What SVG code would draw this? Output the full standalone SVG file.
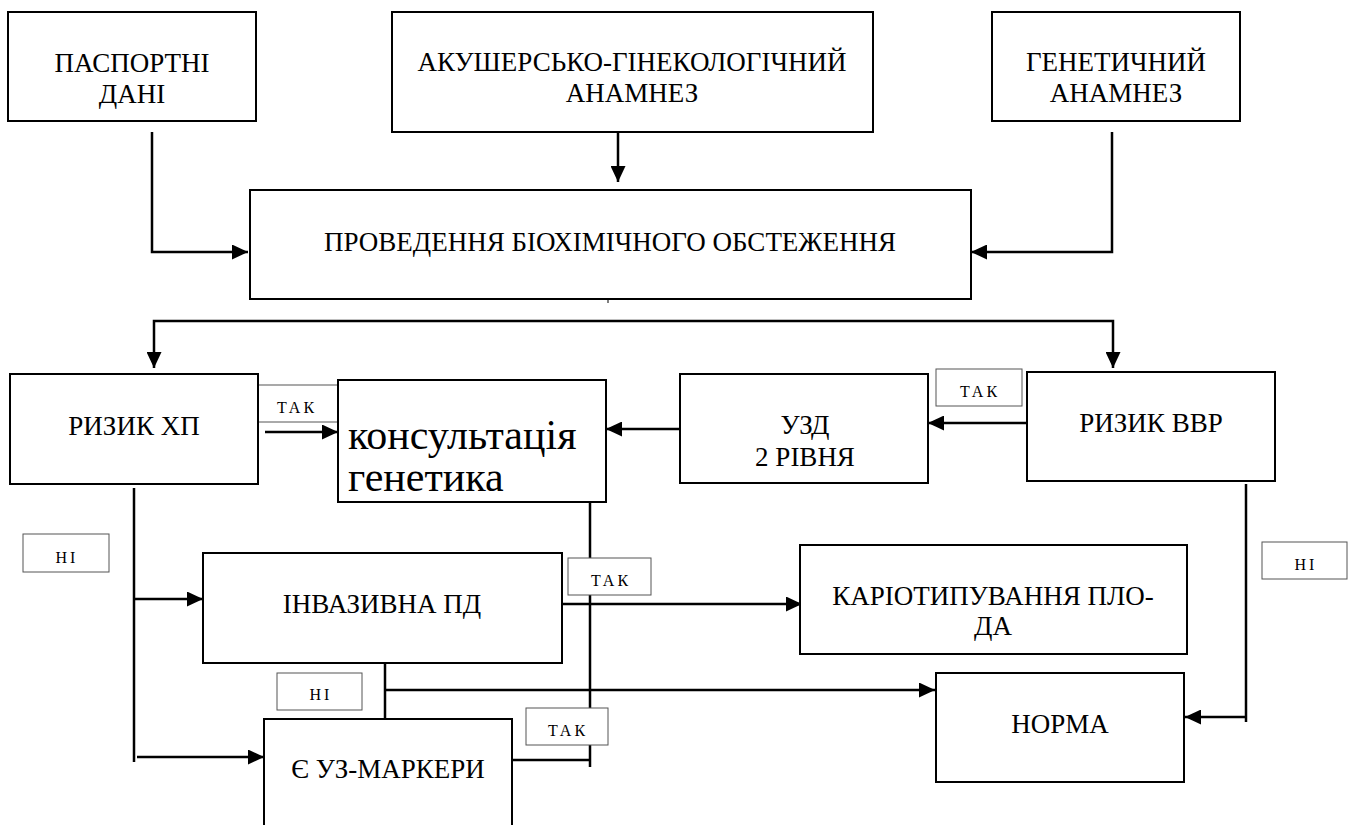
<svg xmlns="http://www.w3.org/2000/svg" width="1355" height="825" viewBox="0 0 1355 825">
<defs>
<marker id="ah" markerUnits="userSpaceOnUse" markerWidth="16" markerHeight="15" refX="16" refY="7.5" orient="auto">
<path d="M0,0 L16,7.5 L0,15 z" fill="#000"/>
</marker>
</defs>
<rect width="1355" height="825" fill="#fff"/>
<g id="connectors" fill="none" stroke="#000" stroke-width="2.5">
<path d="M152,132 V252 H248" marker-end="url(#ah)"/>
<path d="M618,127 V182" marker-end="url(#ah)"/>
<path d="M1112,132 V252 H971" marker-end="url(#ah)"/>
<path d="M610,321 H154 V368" marker-end="url(#ah)"/>
<path d="M610,321 H1113 V368" marker-end="url(#ah)"/>
<path d="M608,300 V303" stroke-width="1"/>
<path d="M265,432 H338" marker-end="url(#ah)"/>
<path d="M680,429 H606" marker-end="url(#ah)"/>
<path d="M1027,423 H928" marker-end="url(#ah)"/>
<path d="M134,488 V762"/>
<path d="M134,599 H203" marker-end="url(#ah)"/>
<path d="M137,757 H264" marker-end="url(#ah)"/>
<path d="M590,493 V767"/>
<path d="M562,604 H802" marker-end="url(#ah)"/>
<path d="M385,663 V722"/>
<path d="M385,690 H935" marker-end="url(#ah)"/>
<path d="M512,760 H590"/>
<path d="M1246,484 V722"/>
<path d="M1246,717 H1185" marker-end="url(#ah)"/>
</g>
<g id="n-pasport"><rect fill="#fff" stroke="#000" stroke-width="2" x="8" y="12" width="248" height="109"/><text style="font-family:'Liberation Serif'" font-size="27" text-anchor="middle" x="132" y="72">ПАСПОРТНІ</text><text style="font-family:'Liberation Serif'" font-size="27" text-anchor="middle" x="132" y="103">ДАНІ</text></g>
<g id="n-akush"><rect fill="#fff" stroke="#000" stroke-width="2" x="392" y="12" width="481" height="120"/><text style="font-family:'Liberation Serif'" font-size="27" text-anchor="middle" x="632" y="71">АКУШЕРСЬКО-ГІНЕКОЛОГІЧНИЙ</text><text style="font-family:'Liberation Serif'" font-size="27" text-anchor="middle" x="632" y="102">АНАМНЕЗ</text></g>
<g id="n-genet"><rect fill="#fff" stroke="#000" stroke-width="2" x="992" y="12" width="248" height="109"/><text style="font-family:'Liberation Serif'" font-size="27" text-anchor="middle" x="1116" y="71">ГЕНЕТИЧНИЙ</text><text style="font-family:'Liberation Serif'" font-size="27" text-anchor="middle" x="1116" y="102">АНАМНЕЗ</text></g>
<g id="n-biochem"><rect fill="#fff" stroke="#000" stroke-width="2" x="250" y="190" width="721" height="109"/><text style="font-family:'Liberation Serif'" font-size="27" text-anchor="middle" x="610" y="251">ПРОВЕДЕННЯ БІОХІМІЧНОГО ОБСТЕЖЕННЯ</text></g>
<g id="l-tak1"><rect fill="#fff" stroke="#555" stroke-width="1" x="253" y="385" width="85" height="37"/><text style="font-family:'Liberation Serif'" font-size="16" letter-spacing="3" text-anchor="middle" x="297" y="413">ТАК</text></g>
<g id="n-riskxp"><rect fill="#fff" stroke="#000" stroke-width="2" x="10" y="374" width="248" height="110"/><text style="font-family:'Liberation Serif'" font-size="27" text-anchor="middle" x="134" y="435">РИЗИК ХП</text></g>
<g id="n-konsult"><rect fill="#fff" stroke="#000" stroke-width="2" x="338" y="380" width="268" height="122"/><text style="font-family:'Liberation Serif'" font-size="42" x="348" y="449">консультація</text><text style="font-family:'Liberation Serif'" font-size="42" x="348" y="491">генетика</text></g>
<g id="n-uzd"><rect fill="#fff" stroke="#000" stroke-width="2" x="680" y="374" width="248" height="109"/><text style="font-family:'Liberation Serif'" font-size="27" text-anchor="middle" x="805" y="434">УЗД</text><text style="font-family:'Liberation Serif'" font-size="27" text-anchor="middle" x="805" y="466">2 РІВНЯ</text></g>
<g id="l-tak2"><rect fill="#fff" stroke="#555" stroke-width="1" x="936" y="369" width="86" height="37"/><text style="font-family:'Liberation Serif'" font-size="16" letter-spacing="3" text-anchor="middle" x="980" y="397">ТАК</text></g>
<g id="n-riskvvr"><rect fill="#fff" stroke="#000" stroke-width="2" x="1027" y="372" width="248" height="109"/><text style="font-family:'Liberation Serif'" font-size="27" text-anchor="middle" x="1151" y="432">РИЗИК ВВР</text></g>
<g id="l-ni1"><rect fill="#fff" stroke="#555" stroke-width="1" x="23" y="534" width="86" height="38"/><text style="font-family:'Liberation Serif'" font-size="16" letter-spacing="3" text-anchor="middle" x="67" y="563">НІ</text></g>
<g id="n-invaz"><rect fill="#fff" stroke="#000" stroke-width="2" x="203" y="553" width="359" height="110"/><text style="font-family:'Liberation Serif'" font-size="27" text-anchor="middle" x="382" y="613">ІНВАЗИВНА ПД</text></g>
<g id="l-tak3"><rect fill="#fff" stroke="#555" stroke-width="1" x="568" y="558" width="83" height="37"/><text style="font-family:'Liberation Serif'" font-size="16" letter-spacing="3" text-anchor="middle" x="611" y="586">ТАК</text></g>
<g id="n-kario"><rect fill="#fff" stroke="#000" stroke-width="2" x="800" y="545" width="387" height="109"/><text style="font-family:'Liberation Serif'" font-size="27" text-anchor="middle" x="993" y="605">КАРІОТИПУВАННЯ ПЛО-</text><text style="font-family:'Liberation Serif'" font-size="27" text-anchor="middle" x="993" y="635">ДА</text></g>
<g id="l-ni2"><rect fill="#fff" stroke="#555" stroke-width="1" x="1262" y="542" width="85" height="37"/><text style="font-family:'Liberation Serif'" font-size="16" letter-spacing="3" text-anchor="middle" x="1306" y="570">НІ</text></g>
<g id="l-ni3"><rect fill="#fff" stroke="#555" stroke-width="1" x="277" y="673" width="85" height="37"/><text style="font-family:'Liberation Serif'" font-size="16" letter-spacing="3" text-anchor="middle" x="321" y="700">НІ</text></g>
<g id="l-tak4"><rect fill="#fff" stroke="#555" stroke-width="1" x="526" y="708" width="82" height="37"/><text style="font-family:'Liberation Serif'" font-size="16" letter-spacing="3" text-anchor="middle" x="568" y="736">ТАК</text></g>
<g id="n-norma"><rect fill="#fff" stroke="#000" stroke-width="2" x="936" y="673" width="248" height="109"/><text style="font-family:'Liberation Serif'" font-size="27" text-anchor="middle" x="1060" y="733">НОРМА</text></g>
<g id="n-uzmark"><path fill="#fff" stroke="#000" stroke-width="2" d="M264,830 V719 H512 V830"/><text style="font-family:'Liberation Serif'" font-size="27" text-anchor="middle" x="388" y="778">Є УЗ-МАРКЕРИ</text></g>
</svg>
